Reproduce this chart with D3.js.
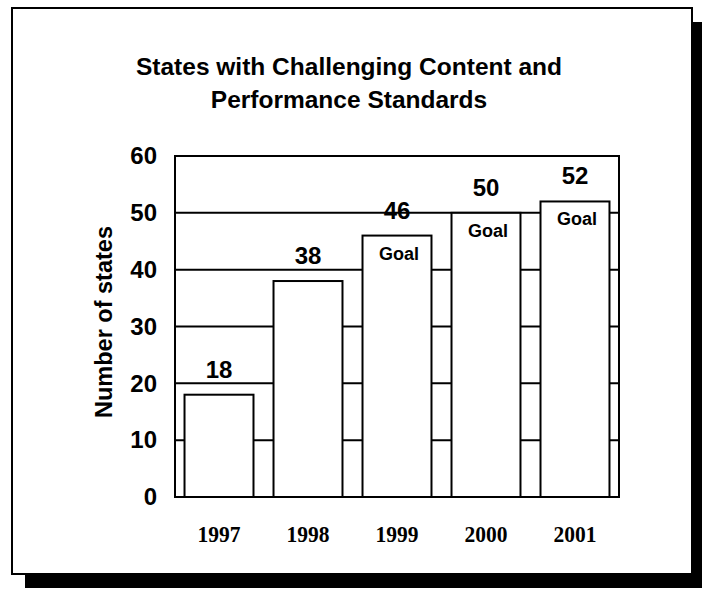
<!DOCTYPE html>
<html>
<head>
<meta charset="utf-8">
<script src="https://cdn.jsdelivr.net/npm/d3@7/dist/d3.min.js"></script>
<style>
  html, body { margin: 0; padding: 0; background: #ffffff; }
  svg { display: block; }
</style>
</head>
<body>
<svg id="chart" width="702" height="590"></svg>
<script>
// ---- data ----
const years = ["1997", "1998", "1999", "2000", "2001"];
const states = [18, 38, 46, 50, 52];
const isGoal = [false, false, true, true, true];
const yTicks = [0, 10, 20, 30, 40, 50, 60];
const titleLines = ["States with Challenging Content and", "Performance Standards"];
const yAxisTitle = "Number of states";
const goalText = "Goal";

// ---- layout ----
const plot = { left: 175, right: 619, top: 156, bottom: 497 };
const sans = "Arial, 'Liberation Sans', Helvetica, sans-serif";
const serif = "'Times New Roman', 'Liberation Serif', Times, serif";

const svg = d3.select("#chart");

// frame with shadow
svg.append("rect").attr("x", 25).attr("y", 22).attr("width", 690).attr("height", 566).attr("fill", "#000");
svg.append("rect").attr("x", 12).attr("y", 8).attr("width", 680).attr("height", 566)
  .attr("fill", "#fff").attr("stroke", "#000").attr("stroke-width", 2);

// title
svg.append("g").selectAll("text").data(titleLines).join("text")
  .attr("x", 349).attr("y", (d, i) => 75 + i * 33)
  .attr("text-anchor", "middle")
  .attr("font-family", sans).attr("font-weight", "bold").attr("font-size", 24.5)
  .attr("fill", "#000")
  .text(d => d);

// scales
const x = d3.scaleBand().domain(years).range([plot.left, plot.right])
  .paddingInner(0.225).paddingOuter(0.107);
const y = d3.scaleLinear().domain([0, 60]).range([plot.bottom, plot.top]);

// gridlines
svg.append("g").selectAll("line").data(yTicks.filter(t => t > 0 && t < 60)).join("line")
  .attr("x1", plot.left).attr("x2", plot.right)
  .attr("y1", d => y(d)).attr("y2", d => y(d))
  .attr("stroke", "#000").attr("stroke-width", 2);

// plot border
svg.append("rect")
  .attr("x", plot.left).attr("y", plot.top)
  .attr("width", plot.right - plot.left).attr("height", plot.bottom - plot.top)
  .attr("fill", "none").attr("stroke", "#000").attr("stroke-width", 2);

// y axis labels
const yAxis = svg.append("g").attr("transform", `translate(${plot.left},0)`)
  .call(d3.axisLeft(y).tickValues(yTicks).tickSize(0).tickPadding(18));
yAxis.select(".domain").remove();
yAxis.selectAll("text")
  .attr("font-family", sans).attr("font-weight", "bold").attr("font-size", 24).attr("fill", "#000");

// y axis title
svg.append("text")
  .attr("transform", "translate(112,322) rotate(-90)")
  .attr("text-anchor", "middle")
  .attr("font-family", sans).attr("font-weight", "bold").attr("font-size", 23.5)
  .attr("fill", "#000")
  .text(yAxisTitle);

// bars
const data = years.map((yr, i) => ({ yr, v: states[i], goal: isGoal[i] }));
svg.append("g").selectAll("rect").data(data).join("rect")
  .attr("x", d => x(d.yr)).attr("width", x.bandwidth())
  .attr("y", d => y(d.v)).attr("height", d => y(0) - y(d.v))
  .attr("fill", "#fff").attr("stroke", "#000").attr("stroke-width", 2);

// value labels
svg.append("g").selectAll("text").data(data).join("text")
  .attr("x", d => x(d.yr) + x.bandwidth() / 2)
  .attr("y", d => y(d.v) - 17)
  .attr("text-anchor", "middle")
  .attr("font-family", sans).attr("font-weight", "bold").attr("font-size", 24)
  .attr("fill", "#000")
  .text(d => d.v);

// goal labels
svg.append("g").selectAll("text").data(data.filter(d => d.goal)).join("text")
  .attr("x", d => x(d.yr) + x.bandwidth() / 2 + 2)
  .attr("y", d => y(d.v) + 24)
  .attr("text-anchor", "middle")
  .attr("font-family", sans).attr("font-weight", "bold").attr("font-size", 18)
  .attr("fill", "#000")
  .text(goalText);

// x axis labels
const xAxis = svg.append("g").attr("transform", `translate(0,${plot.bottom})`)
  .call(d3.axisBottom(x).tickSize(0).tickPadding(0));
xAxis.select(".domain").remove();
xAxis.selectAll("text")
  .attr("y", 45).attr("dy", 0)
  .attr("font-family", serif).attr("font-weight", "bold").attr("font-size", 24)
  .attr("fill", "#000")
  .attr("textLength", 43).attr("lengthAdjust", "spacingAndGlyphs");
</script>
</body>
</html>
